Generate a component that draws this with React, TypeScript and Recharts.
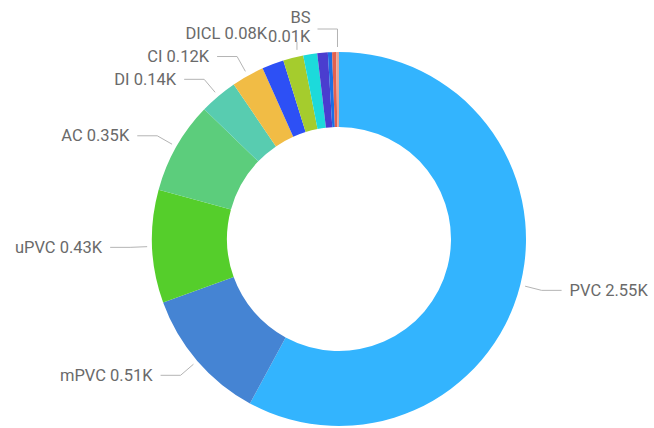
import React from "react";
import { PieChart, Pie, Cell } from "recharts";

const categories = ["PVC", "mPVC", "uPVC", "AC", "DI", "CI", "DICL", "HDPE", "GI", "MS", "CICL", "VC", "BS"];
const values = [2550, 510, 430, 350, 145, 124, 83, 77, 53, 40, 16, 15, 11];
const colors = [
  "#33B4FE", "#4584D3", "#55CE2B", "#5CCD7C", "#58CCB0", "#F1BC45", "#2D50F5",
  "#A5CC2D", "#1CDADB", "#4A3DCF", "#1B6FE3", "#E4604E", "#E6A397",
];

const data = categories.map((name, i) => ({ name, value: values[i] }));

const RAD = Math.PI / 180;
const fmt = (v: number) => (v / 1000).toFixed(2) + "K";
const TEXT_STYLE = { fontFamily: "Roboto", fontSize: 16.5, fill: "#6a6a6a" };
const LINE = { stroke: "#b4b4b4", strokeWidth: 1, fill: "none" };

function renderLabel(p: any) {
  const { cx, cy, midAngle, outerRadius, index } = p;
  const c = Math.cos(-midAngle * RAD);
  const s = Math.sin(-midAngle * RAD);
  const pt = (r: number) => [cx + r * c, cy + r * s];
  const [sx, sy] = pt(outerRadius + 5);
  const [ex, ey] = pt(outerRadius + 22);
  const txt = `${categories[index]} ${fmt(values[index])}`;
  if (index <= 5) {
    const dir = c >= 0 ? 1 : -1;
    const hx = ex + dir * 20;
    return (
      <g>
        <polyline points={`${sx},${sy} ${ex},${ey} ${hx},${ey}`} {...LINE} />
        <text x={hx + dir * 8} y={ey} textAnchor={dir > 0 ? "start" : "end"} dominantBaseline="central" {...TEXT_STYLE}>
          {txt}
        </text>
      </g>
    );
  }
  if (index === 6) {
    return (
      <text x={ex + 2} y={ey - 10} textAnchor="end" dominantBaseline="central" {...TEXT_STYLE}>
        {txt}
      </text>
    );
  }
  if (index === 7) {
    return <polyline points={`${sx + 5},${sy - 3} ${sx + 5},${sy - 11}`} {...LINE} />;
  }
  if (index === categories.length - 1) {
    return (
      <g>
        <polyline points={`${sx},${sy} ${sx},${sy - 18} ${sx - 20},${sy - 18}`} {...LINE} />
        <text x={sx - 27} y={sy - 30} textAnchor="end" dominantBaseline="central" {...TEXT_STYLE}>
          {categories[index]}
        </text>
        <text x={sx - 27} y={sy - 11} textAnchor="end" dominantBaseline="central" {...TEXT_STYLE}>
          {fmt(values[index])}
        </text>
      </g>
    );
  }
  return <g />;
}

export default function App() {
  return (
    <div style={{ width: 654, height: 428, background: "#fff" }}>
      <style>{"body{margin:0}"}</style>
      <PieChart width={654} height={428} margin={{ top: 0, right: 0, bottom: 0, left: 0 }}>
        <Pie
          data={data}
          dataKey="value"
          nameKey="name"
          cx={339}
          cy={239}
          innerRadius={112}
          outerRadius={187}
          startAngle={90}
          endAngle={-270}
          stroke="none"
          label={renderLabel}
          labelLine={false}
          isAnimationActive={false}
        >
          {data.map((d, i) => (
            <Cell key={d.name} fill={colors[i]} />
          ))}
        </Pie>
      </PieChart>
    </div>
  );
}
